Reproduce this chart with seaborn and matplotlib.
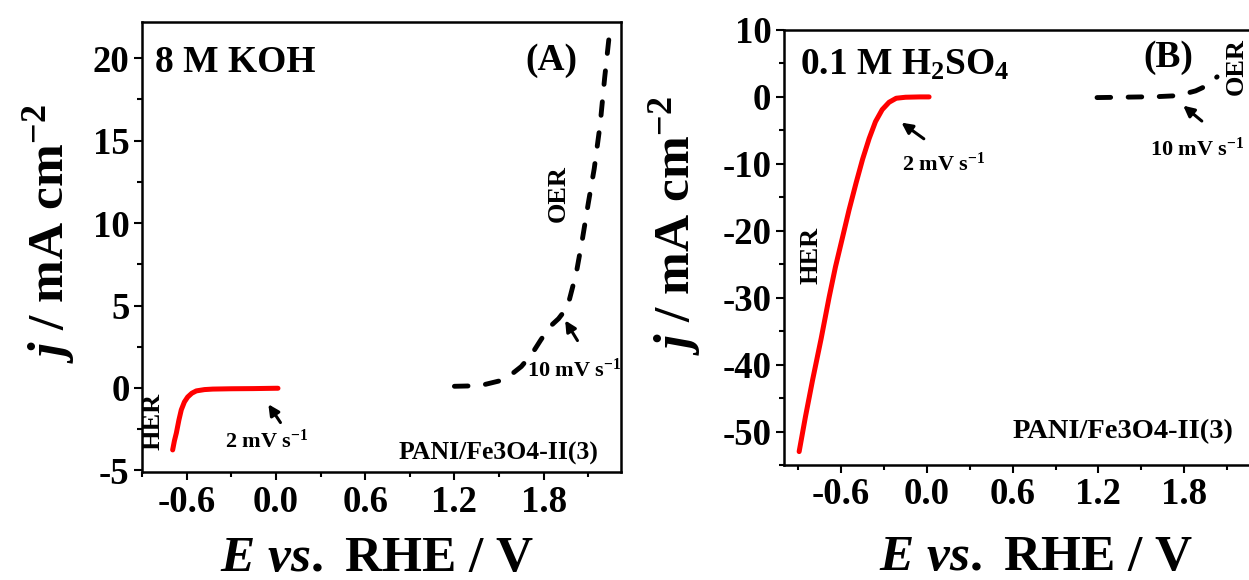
import matplotlib
matplotlib.use("Agg")
import matplotlib.pyplot as plt
import numpy as np
import seaborn as sns

# ---------------------------------------------------------------------------
# data
# ---------------------------------------------------------------------------
# (A) 8 M KOH
her_a_E = [-0.694, -0.682, -0.669, -0.652, -0.636, -0.615, -0.593, -0.565, -0.535,
           -0.48, -0.425, -0.30, -0.15, 0.0, 0.014]
her_a_j = [-3.76, -3.20, -2.73, -1.95, -1.33, -0.85, -0.55, -0.32, -0.18,
           -0.10, -0.07, -0.05, -0.04, -0.02, -0.02]
oer_a_E = [1.20, 1.30, 1.40, 1.50, 1.58, 1.65, 1.72, 1.78, 1.84, 1.90,
           1.96, 2.02, 2.06, 2.10, 2.14, 2.18, 2.21, 2.24]
oer_a_j = [0.10, 0.12, 0.20, 0.42, 0.80, 1.30, 2.05, 2.90, 3.70, 4.20,
           4.90, 7.00, 9.00, 11.2, 13.3, 16.0, 18.8, 21.3]

# (B) 0.1 M H2SO4
her_b_E = [-0.894, -0.85, -0.80, -0.74, -0.684, -0.64, -0.593, -0.545, -0.495,
           -0.45, -0.404, -0.36, -0.313, -0.265, -0.215, -0.15, -0.05, 0.015]
her_b_j = [-53.0, -47.8, -42.3, -36.1, -29.9, -25.4, -21.2, -16.9, -12.8,
           -9.3, -6.2, -3.7, -1.9, -0.8, -0.2, -0.05, 0.0, 0.0]
oer_b_E = [1.19, 1.35, 1.50, 1.62, 1.72, 1.80, 1.88, 1.95, 2.03]
oer_b_j = [-0.1, -0.05, 0.0, 0.05, 0.15, 0.45, 0.9, 1.6, 3.0]

x_major = [-0.6, 0.0, 0.6, 1.2, 1.8]
x_minor = [-0.9, -0.3, 0.3, 0.9, 1.5, 2.1]

# ---------------------------------------------------------------------------
sns.set_style("ticks")
plt.rcParams['font.family'] = ['Liberation Serif', 'DejaVu Serif']
plt.rcParams['font.weight'] = 'bold'
plt.rcParams['text.color'] = 'black'
plt.rcParams['axes.labelcolor'] = 'black'
plt.rcParams['xtick.color'] = 'black'
plt.rcParams['ytick.color'] = 'black'
plt.rcParams['mathtext.fontset'] = 'custom'
plt.rcParams['mathtext.rm'] = 'Liberation Serif:bold'
plt.rcParams['mathtext.it'] = 'Liberation Serif:bold:italic'
plt.rcParams['mathtext.bf'] = 'Liberation Serif:bold'

fig = plt.figure(figsize=(12.49, 5.80), dpi=100)
axA = fig.add_axes([0.1137, 0.1862, 0.3835, 0.7759])
axB = fig.add_axes([0.6277, 0.1983, 0.3891, 0.7500])

tick_fs = 26.5
label_fs = 37


def style_axis(ax):
    for s in ax.spines.values():
        s.set_linewidth(1.8)
        s.set_color('black')
    ax.tick_params(which='major', direction='out', length=6, width=1.5,
                   labelsize=tick_fs, pad=3, colors='black')
    ax.tick_params(which='minor', direction='out', length=3.5, width=1.5,
                   colors='black')
    ax.set_xticks(x_major)
    ax.set_xticks(x_minor, minor=True)
    ax.set_xticklabels(['-0.6', '0.0', '0.6', '1.2', '1.8'], fontweight='bold')
    ax.set_xlabel(r'$\it{E\ vs.}$ RHE / V', fontsize=label_fs, fontweight='bold')
    ax.set_ylabel(r'$\it{j}$ / mA cm$^{-2}$', fontsize=label_fs, fontweight='bold')


def dashed(ax, x, y):
    sns.lineplot(x=x, y=y, ax=ax, color='black', linewidth=3.5)
    ln = ax.lines[-1]
    ln.set_dashes([2.8, 3.6])
    ln.set_dash_capstyle('round')


arrow = dict(arrowstyle='-|>', color='black', lw=2.2, mutation_scale=16)

# ---------------------------------- panel A --------------------------------
sns.lineplot(x=her_a_E, y=her_a_j, ax=axA, color='red', linewidth=3.6)
dashed(axA, oer_a_E, oer_a_j)
axA.set_xlim(-0.9, 2.32)
axA.set_ylim(-5.1, 22.2)
axA.set_yticks([-5, 0, 5, 10, 15, 20])
axA.set_yticks(np.arange(-2.5, 22, 5), minor=True)
axA.set_yticklabels(['-5', '0', '5', '10', '15', '20'], fontweight='bold')
style_axis(axA)
axA.yaxis.set_label_coords(-0.136, 0.53)
axA.xaxis.set_label_coords(0.49, -0.143)

axA.text(0.027, 0.889, '8 M KOH', transform=axA.transAxes, fontsize=27,
         fontweight='bold', ha='left', va='baseline')
axA.text(0.908, 0.893, '(A)', transform=axA.transAxes, fontsize=27,
         fontweight='bold', ha='right', va='baseline')
axA.text(0.952, 0.027, 'PANI/Fe3O4-II(3)', transform=axA.transAxes,
         fontsize=18.5, fontweight='bold', ha='right', va='baseline')
axA.text(-0.825, -2.06, 'HER', rotation=90, fontsize=19, fontweight='bold',
         ha='center', va='center')
axA.text(1.895, 11.8, 'OER', rotation=90, fontsize=19, fontweight='bold',
         ha='center', va='center')
axA.text(-0.061, -3.64, r'2 mV s$^{-1}$', fontsize=16, fontweight='bold',
         ha='center', va='baseline')
axA.text(2.003, 0.67, r'10 mV s$^{-1}$', fontsize=16, fontweight='bold',
         ha='center', va='baseline')
axA.annotate('', xy=(-0.061, -0.85), xytext=(0.041, -2.24), arrowprops=arrow)
axA.annotate('', xy=(1.935, 4.24), xytext=(2.037, 2.73), arrowprops=arrow)

# ---------------------------------- panel B --------------------------------
sns.lineplot(x=her_b_E, y=her_b_j, ax=axB, color='red', linewidth=3.6)
dashed(axB, oer_b_E, oer_b_j)
axB.set_xlim(-1.0, 2.4)
axB.set_ylim(-55, 10)
axB.set_yticks([-50, -40, -30, -20, -10, 0, 10])
axB.set_yticks(np.arange(-55, 10, 10), minor=True)
axB.set_yticklabels(['-50', '-40', '-30', '-20', '-10', '0', '10'], fontweight='bold')
style_axis(axB)
axB.yaxis.set_label_coords(-0.167, 0.55)
axB.xaxis.set_label_coords(0.518, -0.162)

axB.text(0.033, 0.897, r'0.1 M H$_2$SO$_4$', transform=axB.transAxes,
         fontsize=27, fontweight='bold', ha='left', va='baseline')
axB.text(0.790, 0.915, '(B)', transform=axB.transAxes, fontsize=27,
         fontweight='bold', ha='center', va='baseline')
axB.text(0.924, 0.062, 'PANI/Fe3O4-II(3)', transform=axB.transAxes,
         fontsize=20.5, fontweight='bold', ha='right', va='baseline')
axB.text(-0.81, -23.7, 'HER', rotation=90, fontsize=19, fontweight='bold',
         ha='center', va='center')
axB.text(2.165, 4.6, 'OER', rotation=90, fontsize=19, fontweight='bold',
         ha='center', va='center')
axB.text(0.12, -11.0, r'2 mV s$^{-1}$', fontsize=16, fontweight='bold',
         ha='center', va='baseline')
axB.text(1.89, -8.8, r'10 mV s$^{-1}$', fontsize=16, fontweight='bold',
         ha='center', va='baseline')
axB.annotate('', xy=(-0.194, -3.6), xytext=(-0.006, -6.5), arrowprops=arrow)
axB.annotate('', xy=(1.778, -1.04), xytext=(1.938, -3.87), arrowprops=arrow)

fig.savefig('out.png', dpi=100)
